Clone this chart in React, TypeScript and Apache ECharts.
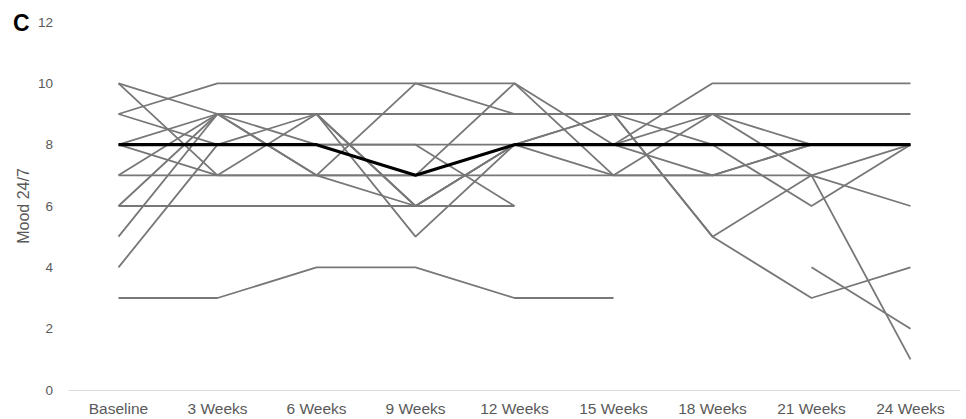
import React, { useEffect, useRef } from "react";
import * as echarts from "echarts";

const categories = ["Baseline", "3 Weeks", "6 Weeks", "9 Weeks", "12 Weeks", "15 Weeks", "18 Weeks", "21 Weeks", "24 Weeks"];
const yTicks = [0, 2, 4, 6, 8, 10, 12];

type V = number | null;
const median: V[] = [8, 8, 8, 7, 8, 8, 8, 8, 8];
const p1: V[] = [9, 10, 10, 10, 10, 8, 10, 10, 10];
const p2: V[] = [10, 9, 9, 9, 9, 9, 9, 9, 9];
const p3: V[] = [7, 7, 7, 7, 7, 7, 7, 7, 1];
const p4: V[] = [6, 6, 6, 6, 6, null, null, null, null];
const p5: V[] = [3, 3, 4, 4, 3, 3, null, null, null];
const p6: V[] = [10, 7, 9, 6, 8, 9, 5, 3, 4];
const p7: V[] = [8, 9, 7, 10, 9, 9, 8, 6, 8];
const p8: V[] = [9, 8, 9, 5, 8, 7, 9, 8, 8];
const p9: V[] = [8, 7, 7, 7, 10, 7, 7, 8, 8];
const p10: V[] = [7, 9, 8, 8, 6, null, null, null, null];
const p11: V[] = [6, 9, 9, 6, 8, 8, 7, 8, 8];
const p12: V[] = [5, 9, 7, 6, 8, 8, 9, 7, 6];
const p13: V[] = [4, 8, 8, 8, 8, 9, 5, 7, 8];
const p14: V[] = [null, null, null, null, null, null, null, 4, 2];

const patients: V[][] = [p1, p2, p3, p4, p5, p6, p7, p8, p9, p10, p11, p12, p13, p14];

export default function App() {
  const ref = useRef<HTMLDivElement>(null);
  useEffect(() => {
    if (!ref.current) return;
    const chart = echarts.init(ref.current, null, { renderer: "svg" });
    const font = "'Liberation Sans', Arial, sans-serif";
    const series: any[] = patients.map((d, i) => ({
      name: "P" + (i + 1),
      type: "line",
      data: d,
      symbol: "none",
      connectNulls: false,
      lineStyle: { color: "#777777", width: 1.8 },
      z: 2,
    }));
    series.push({
      name: "Median",
      type: "line",
      data: median,
      symbol: "none",
      lineStyle: { color: "#000000", width: 3.2 },
      z: 5,
    });
    chart.setOption({
      animation: false,
      backgroundColor: "#ffffff",
      grid: { left: 69, right: 6, top: 22, bottom: 29, containLabel: false, outerBoundsMode: "none" },
      graphic: [
        {
          type: "text",
          left: 13,
          top: 11,
          style: { text: "C", fontSize: 23, fontWeight: "bold", fill: "#000", fontFamily: font },
        },
      ],
      xAxis: {
        type: "category",
        data: categories,
        boundaryGap: true,
        axisLine: { show: true, lineStyle: { color: "#d9d9d9", width: 1 } },
        axisTick: { show: false },
        axisLabel: { color: "#595959", fontSize: 15.5, fontFamily: font, margin: 10, interval: 0 },
        splitLine: { show: false },
      },
      yAxis: {
        type: "value",
        min: yTicks[0],
        max: yTicks[yTicks.length - 1],
        interval: 2,
        name: "Mood 24/7",
        nameLocation: "middle",
        nameGap: 38,
        nameMoveOverlap: false,
        nameTextStyle: { color: "#595959", fontSize: 16, fontFamily: font },
        axisLine: { show: false },
        axisTick: { show: false },
        splitLine: { show: false },
        axisLabel: { color: "#595959", fontSize: 13.5, fontFamily: font, margin: 16 },
      },
      series,
    });
    return () => chart.dispose();
  }, []);
  return <div ref={ref} style={{ position: "absolute", left: 0, top: 0, width: 966, height: 419 }} />;
}
